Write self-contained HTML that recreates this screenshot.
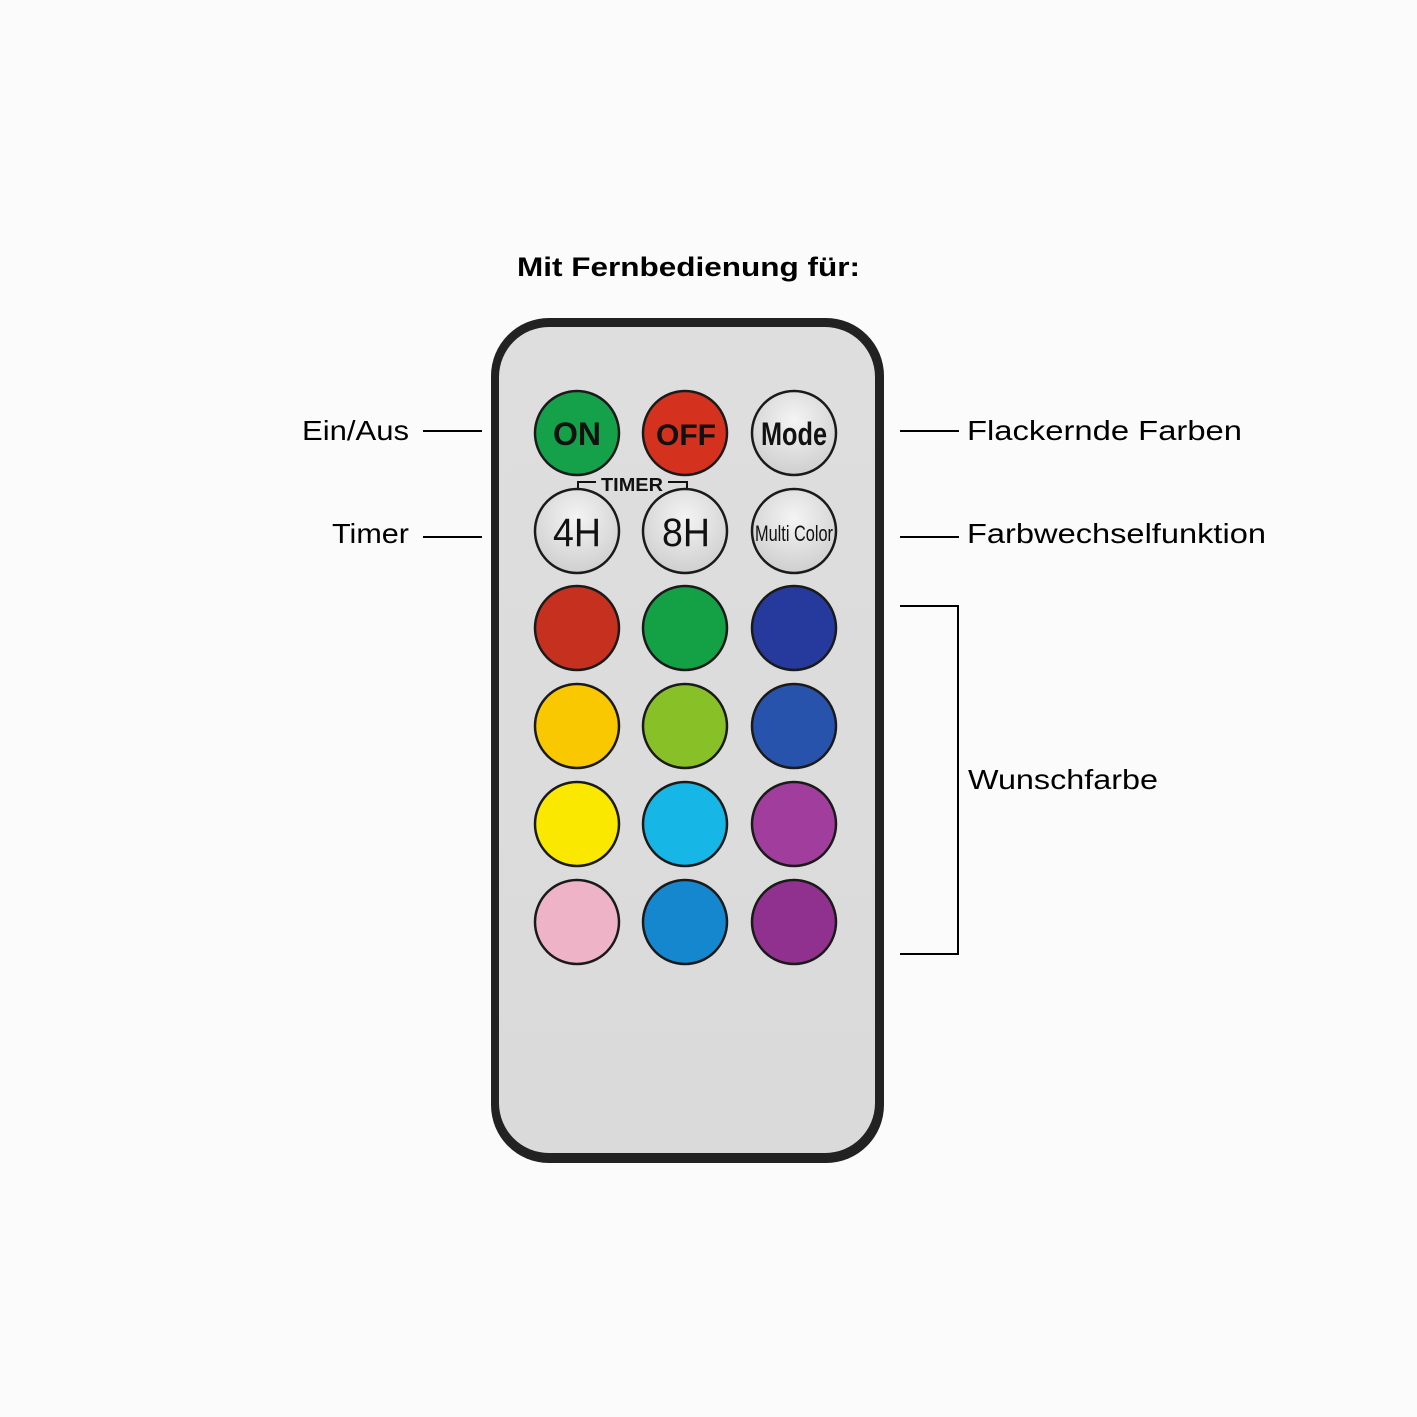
<!DOCTYPE html>
<html><head><meta charset="utf-8"><style>
html,body{margin:0;padding:0;background:#fbfbfb;}
svg{display:block}
text{font-family:"Liberation Sans",sans-serif;}
</style></head><body>
<svg width="1417" height="1417" viewBox="0 0 1417 1417" xmlns="http://www.w3.org/2000/svg">
<defs>
<radialGradient id="wb" cx="50%" cy="35%" r="65%"><stop offset="0" stop-color="#f4f4f4"/><stop offset="1" stop-color="#cfcfcf"/></radialGradient>
<linearGradient id="body" x1="0" y1="0" x2="0" y2="1"><stop offset="0" stop-color="#dedede"/><stop offset="1" stop-color="#dadada"/></linearGradient>
</defs>
<rect width="1417" height="1417" fill="#fbfbfb"/>
<text x="517" y="276" font-size="27" font-weight="bold" textLength="343" lengthAdjust="spacingAndGlyphs" fill="#000">Mit Fernbedienung für:</text>

<rect x="491" y="318" width="393" height="845" rx="58" fill="#222"/>
<rect x="499" y="327" width="376" height="826" rx="50" fill="url(#body)"/>

<!-- labels -->
<g fill="#000" font-size="28">
<text x="302" y="440" textLength="107" lengthAdjust="spacingAndGlyphs">Ein/Aus</text>
<text x="332" y="543" textLength="77" lengthAdjust="spacingAndGlyphs">Timer</text>
<text x="967" y="440" textLength="275" lengthAdjust="spacingAndGlyphs">Flackernde Farben</text>
<text x="967" y="543" textLength="299" lengthAdjust="spacingAndGlyphs">Farbwechselfunktion</text>
<text x="968" y="789" textLength="190" lengthAdjust="spacingAndGlyphs">Wunschfarbe</text>
</g>
<g stroke="#000" stroke-width="2" fill="none">
<line x1="423" y1="431" x2="482" y2="431"/>
<line x1="423" y1="537" x2="482" y2="537"/>
<line x1="900" y1="431" x2="959" y2="431"/>
<line x1="900" y1="537" x2="959" y2="537"/>
<polyline points="900,606 958,606 958,954 900,954"/>
</g>

<!-- top buttons -->
<g stroke="#1a1a1a" stroke-width="2.5">
<circle cx="577" cy="433" r="42" fill="#15a04a"/>
<circle cx="685" cy="433" r="42" fill="#d4321e"/>
<circle cx="794" cy="433" r="42" fill="url(#wb)"/>
<circle cx="577" cy="531" r="42" fill="url(#wb)"/>
<circle cx="685" cy="531" r="42" fill="url(#wb)"/>
<circle cx="794" cy="531" r="42" fill="url(#wb)"/>
</g>
<g fill="#111" text-anchor="middle">
<text x="577" y="445" font-size="32" font-weight="bold">ON</text>
<text x="686" y="445" font-size="30" font-weight="bold">OFF</text>
<text x="794" y="445" font-size="32" font-weight="bold" textLength="66" lengthAdjust="spacingAndGlyphs">Mode</text>
<text x="577" y="546" font-size="40" textLength="48" lengthAdjust="spacingAndGlyphs">4H</text>
<text x="686" y="546" font-size="40" textLength="48" lengthAdjust="spacingAndGlyphs">8H</text>
<text x="794" y="541" font-size="22" textLength="78" lengthAdjust="spacingAndGlyphs">Multi Color</text>
<text x="632" y="491" font-size="18" font-weight="bold" textLength="62" lengthAdjust="spacingAndGlyphs">TIMER</text>
</g>
<g stroke="#111" stroke-width="2" fill="none">
<polyline points="578,488 578,482 596,482"/>
<polyline points="668,482 687,482 687,488"/>
</g>

<!-- color buttons -->
<g stroke="#1a1a1a" stroke-width="2.5">
<circle cx="577" cy="628" r="42" fill="#c5301f"/>
<circle cx="685" cy="628" r="42" fill="#14a045"/>
<circle cx="794" cy="628" r="42" fill="#263a9e"/>
<circle cx="577" cy="726" r="42" fill="#f9c800"/>
<circle cx="685" cy="726" r="42" fill="#88c127"/>
<circle cx="794" cy="726" r="42" fill="#2853ac"/>
<circle cx="577" cy="824" r="42" fill="#fbe800"/>
<circle cx="685" cy="824" r="42" fill="#16b6e6"/>
<circle cx="794" cy="824" r="42" fill="#a13d9c"/>
<circle cx="577" cy="922" r="42" fill="#eeb3c6"/>
<circle cx="685" cy="922" r="42" fill="#1587cf"/>
<circle cx="794" cy="922" r="42" fill="#90318f"/>
</g>
</svg>
</body></html>
